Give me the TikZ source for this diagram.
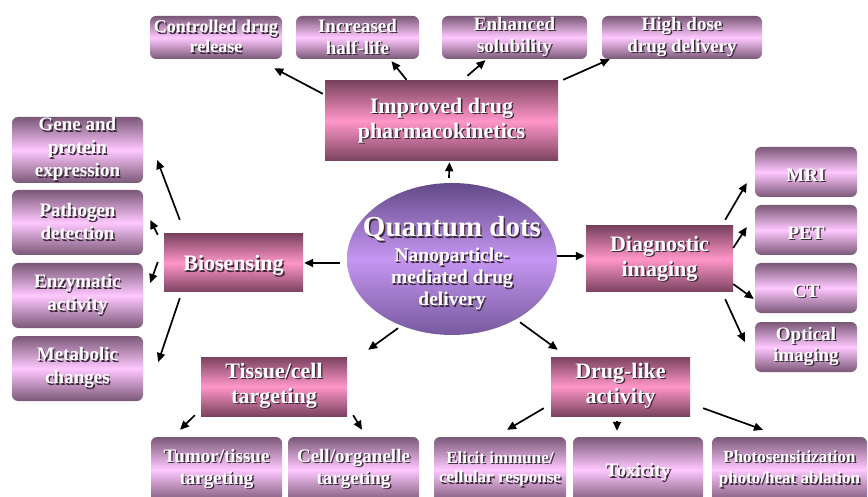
\documentclass[tikz,border=0pt]{standalone}
\usepackage{fontspec}
\setmainfont{Liberation Serif}
\usepackage{xcolor}
\usepackage{tikz}
\usetikzlibrary{positioning, arrows.meta, calc, shapes.geometric}
\definecolor{subdark}{HTML}{7A5877}
\definecolor{sublight}{HTML}{FFC8FF}
\definecolor{maindark}{HTML}{7A4260}
\definecolor{mainlight}{HTML}{FF96C8}
\definecolor{qddark}{HTML}{634A88}
\definecolor{qdlight}{HTML}{C596F2}
\definecolor{txtshadow}{HTML}{3A2A38}
\newcommand\shtxt[1]{\rlap{\kern1.4pt\raisebox{-1.4pt}{\color{txtshadow}#1}}#1}

\begin{document}
\begin{tikzpicture}[x=1pt, y=-1pt,
    subbox/.style={rounded corners=6pt, top color=subdark, bottom color=subdark, middle color=sublight, text=white, align=center, inner sep=0pt, font=\fontsize{19}{21.5}\selectfont\bfseries, execute at begin node={\rule{0pt}{20pt}}},
    mainbox/.style={top color=maindark, bottom color=maindark, middle color=mainlight, text=white, align=center, inner sep=0pt, font=\fontsize{22}{25}\selectfont\bfseries, execute at begin node={\rule{0pt}{22pt}}},
    arr/.style={-{Triangle[length=9pt, width=8pt]}, line width=1.7pt}]
  \useasboundingbox (0,0) rectangle (868,497);

  % centre
  \node[ellipse, top color=qddark, bottom color=qddark!80!qdlight, middle color=qdlight, inner sep=0pt, minimum width=210, minimum height=152] (qd) at (452,259) {};
  \node[text=white, align=center, inner sep=0pt, font=\fontsize{19.5}{22}\selectfont\bfseries] (qdtext) at (452,264)
    {{\fontsize{29}{30}\selectfont\shtxt{Quantum dots}}\\[3pt]\shtxt{Nanoparticle-}\\\shtxt{mediated drug}\\\shtxt{delivery}};

  % pharmacokinetics
  \node[mainbox, minimum width=233, minimum height=80] (pk) at (441.5,121) {\shtxt{Improved drug}\\\shtxt{pharmacokinetics}};
  \node[subbox, minimum width=132, minimum height=43, font=\fontsize{18}{20}\selectfont\bfseries] (crel) at (216,37.5) {\shtxt{Controlled drug}\\\shtxt{release}};
  \node[subbox, minimum width=123, minimum height=43] (half) at (357.5,37.5) {\shtxt{Increased}\\\shtxt{half-life}};
  \node[subbox, minimum width=145, minimum height=43] (solu) at (514.5,37.5) {\shtxt{Enhanced}\\\shtxt{solubility}};
  \node[subbox, minimum width=160, minimum height=43] (dose) at (682,37.5) {\shtxt{High dose}\\\shtxt{drug delivery}};

  % biosensing
  \node[mainbox, minimum width=139, minimum height=58] (bios) at (233.5,263) {\shtxt{Biosensing}};
  \node[subbox, minimum width=131, minimum height=66, font=\fontsize{19}{23}\selectfont\bfseries] (gene) at (77.5,150) {\shtxt{Gene and}\\\shtxt{protein}\\\shtxt{expression}};
  \node[subbox, minimum width=131, minimum height=65, font=\fontsize{19}{23}\selectfont\bfseries] (path) at (77.5,222.5) {\shtxt{Pathogen}\\\shtxt{detection}};
  \node[subbox, minimum width=131, minimum height=65, font=\fontsize{19}{23}\selectfont\bfseries] (enzy) at (77.5,295.5) {\shtxt{Enzymatic}\\\shtxt{activity}};
  \node[subbox, minimum width=131, minimum height=65, font=\fontsize{19}{23}\selectfont\bfseries] (meta) at (77.5,368.5) {\shtxt{Metabolic}\\\shtxt{changes}};

  % imaging
  \node[mainbox, minimum width=147, minimum height=66] (diag) at (659.5,259) {\shtxt{Diagnostic}\\\shtxt{imaging}};
  \node[subbox, minimum width=102, minimum height=50] (mri) at (806,172) {\shtxt{MRI}};
  \node[subbox, minimum width=102, minimum height=50] (pet) at (806,230) {\shtxt{PET}};
  \node[subbox, minimum width=102, minimum height=50] (ct) at (806,288) {\shtxt{CT}};
  \node[subbox, minimum width=102, minimum height=50] (opt) at (806,347) {\shtxt{Optical}\\\shtxt{imaging}};

  % targeting
  \node[mainbox, minimum width=146, minimum height=59] (tiss) at (274,386.5) {\shtxt{Tissue/cell}\\\shtxt{targeting}};
  \node[subbox, minimum width=131, minimum height=65] (tumor) at (216.5,469.5) {\shtxt{Tumor/tissue}\\\shtxt{targeting}};
  \node[subbox, minimum width=131, minimum height=65] (cello) at (353.5,469.5) {\shtxt{Cell/organelle}\\\shtxt{targeting}};

  % drug-like activity
  \node[mainbox, minimum width=139, minimum height=59] (drug) at (620.5,386.5) {\shtxt{Drug-like}\\\shtxt{activity}};
  \node[subbox, minimum width=132, minimum height=65, font=\fontsize{17}{19.5}\selectfont\bfseries] (elic) at (500,469.5) {\shtxt{Elicit immune/}\\\shtxt{cellular response}};
  \node[subbox, minimum width=130, minimum height=65] (toxi) at (638,469.5) {\shtxt{Toxicity}};
  \node[subbox, minimum width=155, minimum height=65, font=\fontsize{17}{21.5}\selectfont\bfseries] (phot) at (789.5,469.5) {\shtxt{Photosensitization}\\\shtxt{photo/heat ablation}};

  % arrows
  \draw[arr] ($(qd.north)+(-3,-5)$) -- ($(pk.south)+(8,1)$);
  \draw[arr] ($(qd.west)+(-7,4)$) -- ($(bios.east)+(1,0)$);
  \draw[arr] ($(qd.east)+(0,-3)$) -- ($(diag.west)+(-1,-3)$);
  \draw[arr] ($(qd.south)+(-54,-7)$) -- ($(tiss.north east)+(21,-7)$);
  \draw[arr] ($(qd.south)+(68,-13)$) -- ($(drug.north west)+(7,-7)$);

  \draw[arr] ($(pk.north west)+(-2,13)$) -- ($(crel.south east)+(-8,9)$);
  \draw[arr] ($(pk.north)+(-35,-1)$) -- ($(half.south)+(34,2)$);
  \draw[arr] ($(pk.north)+(26,-5)$) -- ($(solu.south)+(-29,1)$);
  \draw[arr] ($(pk.north east)+(5,-1)$) -- ($(dose.south west)+(8,0)$);

  \draw[arr] ($(bios.north west)+(16,-14)$) -- ($(gene.east)+(14,10)$);
  \draw[arr] ($(bios.north west)+(-6,1)$) -- ($(path.east)+(7,-2.5)$);
  \draw[arr] ($(bios.west)+(-6,-1)$) -- ($(enzy.east)+(7,-12.5)$);
  \draw[arr] ($(bios.south west)+(16,6)$) -- ($(meta.east)+(15,-6.5)$);

  \draw[arr] ($(diag.north east)+(-8,-6)$) -- ($(mri.west)+(-8,11)$);
  \draw[arr] ($(diag.east)+(0,-11)$) -- ($(pet.west)+(-8,-3)$);
  \draw[arr] ($(diag.east)+(0,25)$) -- ($(ct.west)+(-1,11)$);
  \draw[arr] ($(diag.south east)+(-8,7)$) -- ($(opt.west)+(-10,-5)$);

  \draw[arr] ($(tiss.south west)+(-6,-1)$) -- ($(tumor.north)+(-36.5,-7)$);
  \draw[arr] ($(tiss.south east)+(6,-1)$) -- ($(cello.north)+(8.5,-7)$);

  \draw[arr] ($(drug.south west)+(-7,-8)$) -- ($(elic.north)+(7,-7)$);
  \draw[arr] ($(drug.south)+(-3.5,5)$) -- ($(toxi.north)+(-21,-6)$);
  \draw[arr] ($(drug.south east)+(13,-8)$) -- ($(phot.north)+(-26.5,-7)$);
\end{tikzpicture}
\end{document}
